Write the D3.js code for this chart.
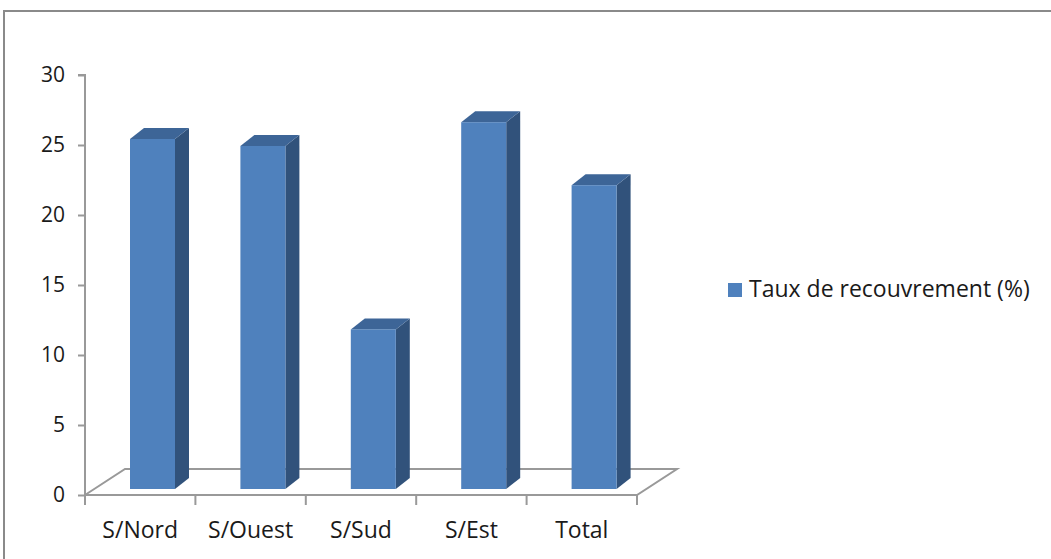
<!DOCTYPE html>
<html>
<head>
<meta charset="utf-8">
<script src="https://cdn.jsdelivr.net/npm/d3@7"></script>
<style>
  html, body { margin: 0; padding: 0; background: #fff; }
  svg { display: block; }
  text { font-family: "Open Sans", "Noto Sans", sans-serif; fill: #1a1a1a; }
</style>
</head>
<body>
<svg id="chart" width="1051" height="559"></svg>
<script>
// Taux de recouvrement par secteur
const categories = ["S/Nord", "S/Ouest", "S/Sud", "S/Est", "Total"];
const values = [25.0, 24.5, 11.4, 26.2, 21.7];
const yTicks = [0, 5, 10, 15, 20, 25, 30];
const seriesName = "Taux de recouvrement (%)";

const svg = d3.select("#chart");

// plot geometry
const x0 = 85, x1 = 637;
const y = d3.scaleLinear().domain([0, 30]).range([495, 75]);
const x = d3.scaleBand().domain(categories).range([x0, x1])
  .paddingInner(0.5924).paddingOuter(0.2962);
const floorDx = 40, floorDy = -26;   // oblique depth of the floor
const barShiftX = 12.3, barShiftY = -6; // bar front plane inside the floor
const depthX = 14, depthY = -11;     // bar depth

const colFront = "#4f81bd", colTop = "#3d6597", colSide = "#31527b";
const lineCol = "#999999";

// outer frame
svg.append("rect")
  .attr("x", 4).attr("y", 11).attr("width", 1060).attr("height", 600)
  .attr("fill", "none").attr("stroke", "#8a8a8a").attr("stroke-width", 2);

// floor
const y0 = y(0);
svg.append("path")
  .attr("d", d3.line()([[x0, y0], [x1, y0], [x1 + floorDx, y0 + floorDy], [x0 + floorDx, y0 + floorDy], [x0, y0]]))
  .attr("fill", "none").attr("stroke", lineCol).attr("stroke-width", 2)
  .attr("stroke-linejoin", "miter");

// value axis
const yAxis = d3.axisLeft(y).tickValues(yTicks).tickSize(7).tickPadding(13);
const gy = svg.append("g").attr("transform", `translate(${x0},0)`).call(yAxis);
gy.select(".domain").attr("stroke", lineCol).attr("stroke-width", 2)
  .attr("d", `M-7,${y(30)}H0V${y0}`);
gy.selectAll(".tick line").attr("stroke", lineCol).attr("stroke-width", 2);
gy.selectAll(".tick text").attr("font-size", 21).attr("fill", "#1a1a1a")
  .style("font-family", "'Open Sans', sans-serif");

// category axis: ticks on band boundaries
const step = x.step();
const bounds = d3.range(categories.length + 1).map(i => x0 + i * step);
svg.append("g").selectAll("line").data(bounds).join("line")
  .attr("x1", d => d).attr("x2", d => d)
  .attr("y1", y0).attr("y2", y0 + 10)
  .attr("stroke", lineCol).attr("stroke-width", 2);
svg.append("g").selectAll("text").data(categories).join("text")
  .attr("x", (d, i) => x0 + (i + 0.5) * step)
  .attr("y", 538)
  .attr("text-anchor", "middle")
  .attr("font-size", 23)
  .text(d => d);

// 3D columns
const bars = svg.append("g").selectAll("g").data(categories.map((c, i) => ({c, v: values[i]}))).join("g");
bars.each(function(d) {
  const g = d3.select(this);
  const bx = x(d.c) + barShiftX, bw = x.bandwidth();
  const yt = y(d.v) + barShiftY, yb = y0 + barShiftY;
  g.append("path")
    .attr("d", d3.line()([[bx + bw, yt], [bx + bw + depthX, yt + depthY], [bx + bw + depthX, yb + depthY], [bx + bw, yb]]) + "Z")
    .attr("fill", colSide);
  g.append("path")
    .attr("d", d3.line()([[bx, yt], [bx + depthX, yt + depthY], [bx + bw + depthX, yt + depthY], [bx + bw, yt]]) + "Z")
    .attr("fill", colTop);
  g.append("rect")
    .attr("x", bx).attr("y", yt).attr("width", bw).attr("height", yb - yt)
    .attr("fill", colFront);
});

// legend
const lg = svg.append("g").attr("transform", "translate(728,283)");
lg.append("rect").attr("width", 14).attr("height", 14).attr("fill", colFront);
lg.append("text").attr("x", 21).attr("y", 14).attr("font-size", 23).text(seriesName);
</script>
</body>
</html>
